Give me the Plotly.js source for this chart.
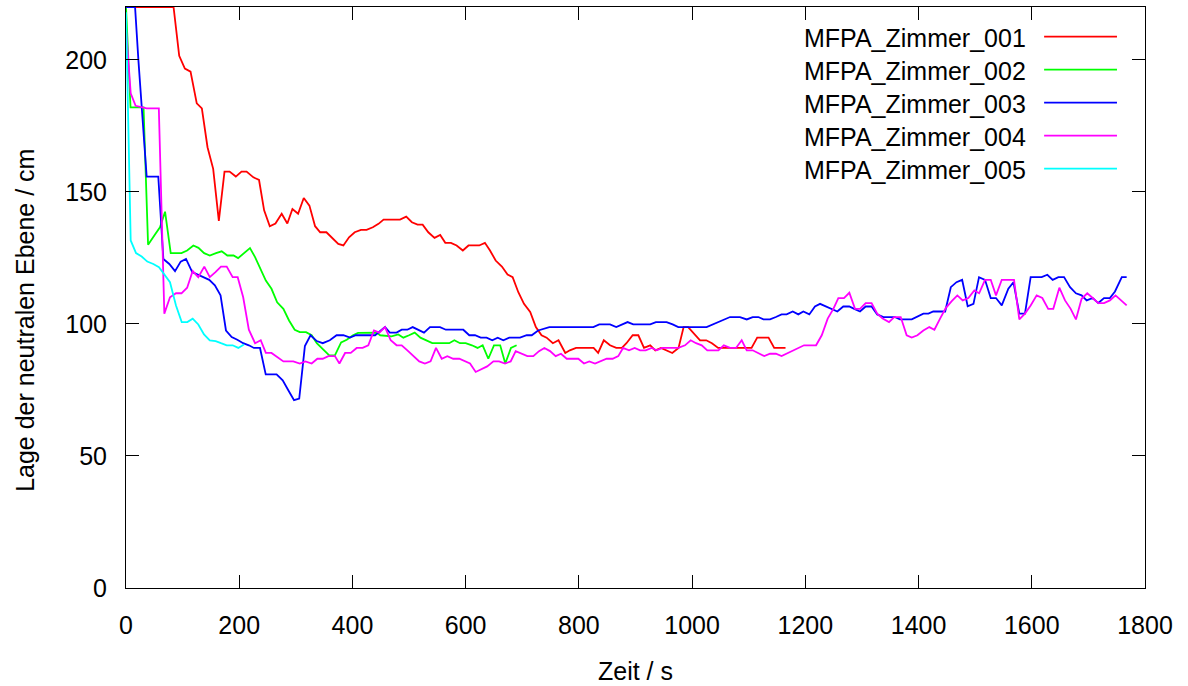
<!DOCTYPE html>
<html><head><meta charset="utf-8">
<script src="https://cdn.plot.ly/plotly-3.0.1.min.js"></script>
<style>html,body{margin:0;padding:0;background:#fff}#chart{width:1188px;height:686px}</style>
</head><body><div id="chart"></div>
<script>
const seriesNames = ['MFPA_Zimmer_001','MFPA_Zimmer_002','MFPA_Zimmer_003','MFPA_Zimmer_004','MFPA_Zimmer_005'];
const seriesColors = ['#ff0000','#00ff00','#0000ff','#ff00ff','#00ffff'];
const xTickVals = [0,200,400,600,800,1000,1200,1400,1600,1800];
const yTickVals = [0,50,100,150,200];

const z001_t = [0,16,84,94,104,114,125,134,144,154,164,174,183,194,204,213,225,235,244,254,264,275,285,294,304,314,324,334,343,354,366,375,384,394,404,415,425,436,446,455,466,484,495,505,515,524,534,545,555,564,574,584,595,605,624,634,643,653,664,674,683,693,703,714,724,734,743,754,764,776,784,795,826,834,844,855,866,876,884,895,905,915,926,935,945,955,965,976,985,993,1005,1014,1025,1035,1046,1105,1115,1135,1145,1165];
const z001_h = [220,220,220,201.5,196.7,195.5,183.5,181.6,166.9,158.7,139,157.7,157.7,155.8,157.7,157.7,155.5,154.5,143,137,138,141.7,138,143.5,141.7,147.7,144.8,137,134.7,134.7,132.2,130.3,129.7,132.8,134.7,135.6,135.6,136.6,137.9,139.5,139.5,139.5,140.6,138.5,137.6,137.6,134.7,132.6,133.7,130.7,130.7,129.7,127.8,129.7,129.7,130.7,127.8,124,121.7,118.7,117.7,112,107.6,104.5,98.8,95.7,94.8,92.7,93.8,89,90,90.9,90.9,89,93.8,91.9,90.9,90.9,92.7,95.7,95.7,90.9,91.9,90,90.9,90,89,90.9,98.8,98.8,95.7,93.8,93.8,92.7,90.9,90.9,94.8,94.8,90.9,90.9];

const z002_t = [0,8,31,39,50,60,69,79,98,108,119,128,138,148,159,169,179,190,198,208,219,228,237,247,257,267,278,288,298,307,318,328,337,347,359,369,380,390,401,410,443,449,469,481,490,500,510,520,531,541,571,580,590,600,611,621,630,640,650,661,670,680,690];
const z002_h = [220,182,182,130,133.5,136.6,142.5,126.8,126.8,127.8,129.7,128.8,126.8,125.9,126.8,127.5,125.9,125.9,124.9,126.8,128.7,125.3,120.9,116.4,113.3,108.2,105.7,101.3,97.8,96.9,96.9,95.7,92.7,90.6,88.1,88.1,93,94,95.7,96.6,96.7,95.7,95.3,96,94.8,95.7,96.7,94.8,93.8,92.7,92.7,93.8,92.7,92.7,91.9,90.9,91.9,86.8,91.9,91.9,85,90.9,91.9];

const z003_t = [0,16,22,36.5,57,66,76.5,86.6,96.6,106,117,127.7,137.8,147,157,167,176.6,186.7,196.6,207,217,226,236.7,246.8,266,276.8,286.7,296.8,306,316,326,337,347.5,360,372,384,395.7,406,440,457.5,466,478,487,497,506.4,516.5,526.4,537,554.7,565,595.8,606.4,616.5,626.6,637,647,656.6,666.5,677,696,707.8,716.7,728,747.8,825.5,836,855,866,876,886,896,926,936,955,965.6,975.6,1025.6,1036,1046,1056,1067,1084.6,1096.5,1107,1117,1126,1137.6,1148,1158,1167,1177.7,1187.6,1196.5,1207,1217,1226,1236.6,1246.6,1256.5,1267,1277.6,1286.5,1296.6,1306.6,1317,1327,1337.8,1358,1367,1388,1408.5,1417.4,1426,1447,1457,1467,1477,1486.8,1497,1506.8,1517.4,1527.5,1536.8,1547,1558.6,1567.6,1578,1588,1598,1617.5,1627.5,1636.9,1647,1657,1667.6,1678,1688,1697,1707.6,1717.5,1727.6,1738,1747,1759,1767.6];
const z003_h = [220,220,199.6,155.8,155.8,124.6,122.7,120,123.6,124.6,119.6,118.6,117.7,116.7,114.6,110.8,97.5,95,94,92.7,91.9,90.9,90.9,80.9,80.9,78.6,74.9,71.1,71.7,91.6,95.7,93.5,92.7,93.8,95.7,95.7,94.8,95.7,95.7,98.8,96.7,96.7,97.8,97.8,98.8,97.8,96.7,98.8,98.8,97.8,97.8,95.7,95.7,94.8,94.8,93.8,94.8,93.8,94.8,94.8,95.7,95.7,97.5,98.8,98.8,99.8,99.8,98.8,99.8,100.7,99.8,99.8,100.7,100.7,99.8,98.8,98.8,99.8,100.7,101.7,102.6,102.6,101.7,102.6,102.6,101.7,101.7,102.6,103.6,103.6,104.7,103.6,104.7,103.6,106.6,107.6,106.6,105.7,104.7,106.6,106.6,105.7,104.7,106.6,106.6,103.6,102.6,102.6,101.7,101.7,103.9,103.9,104.7,104.7,113.9,115.8,116.7,106.7,107.6,117.7,116.7,109.8,109.8,107,113.3,115.8,103.9,103.9,117.7,117.7,118.6,116.7,117.7,117.7,113.9,111.6,110.8,108.9,109.8,107.9,109.8,109.8,112.3,117.7,117.7];

const z004_t = [0,8.3,17,27.7,36.5,58,67.7,77.7,88.3,98,108,117.8,127.7,138.3,148,158,167.8,177.9,188.4,197.3,207,217,228,238,247,257,267,278,295.5,307,317,328,338,347.5,357.4,369,377,387,397,407.5,418,428,438,447.5,457.5,467.6,478,487,497,507.5,518,528,538,547.6,557.7,567.6,578,588.7,598.8,607.7,617.7,628,638,649,659,669.5,679.5,688.4,699,709,719.5,729.6,739,749,759,768.4,778.5,799,809,818.4,828.5,838.5,849,859.6,869.6,878,888.5,898.6,908,918,928.6,937.5,947.4,975.6,987.5,997.5,1007,1017,1026.8,1046.4,1056,1067,1077.6,1087.6,1096.5,1107,1117,1127.5,1137.6,1148,1158,1197.7,1219,1229,1239.5,1249.5,1258.3,1268.3,1277.7,1287.8,1296.6,1306.6,1317,1327,1336.6,1347.8,1357,1368.5,1379,1388,1398,1408.5,1419,1428,1438,1448,1458.6,1468.5,1478,1488,1498.5,1507,1517.4,1527.5,1536.8,1547,1568.6,1578,1588,1598,1608.6,1618.6,1629,1638,1648.7,1658.7,1668.7,1678,1688,1698,1707.6,1717.5,1727.6,1738,1748,1757,1767.6];
const z004_h = [212,187.3,182.6,182.2,181.6,181.6,103.9,110.1,111.6,111.6,113.7,120,117.7,121.7,117.7,119.6,121.7,121.7,117.7,117.7,110.1,97.8,92.7,93.8,89,89,87.6,85.8,85.8,85,85.8,85,86.8,86.8,87.8,87.8,85,89,89,90.9,90.9,91.9,97.5,96.7,98.8,93.8,91.9,91.9,90,87.8,85.8,85,85.8,90.9,86.8,87.8,86.8,86.8,85.8,85,81.8,82.8,83.9,85.8,85.8,85,85.8,89.7,88.7,87.8,87.8,89.7,90.9,89.7,87.8,88.7,86.8,86.8,85,85.8,85,85.8,86.8,86.8,87.8,90.9,90,90.9,90,90,90.9,90,90.9,90.9,91.9,93.8,92.7,91.9,90,90,91.9,90.9,90.9,93.8,90,90,89,87.8,88.7,88.7,87.8,91.9,91.9,95.7,102,105.7,109.8,109.8,111.8,105.7,105.7,107.9,107.9,103.9,102,100.7,102.6,102.6,95.7,94.8,95.7,97.5,98.8,97.8,102,106,108.6,110.8,108.9,109.8,112.7,111.6,116.7,116.7,110.8,116.7,116.7,101.7,103.9,107,110.8,109.8,105.7,105.7,113.7,108.9,105.7,101.7,109.5,111.6,109.8,107.9,107.9,108.9,110.8,108.9,107];

const z005_t = [0,5.8,8.3,17.7,27.7,37.6,48.2,58.3,67.7,77.7,88.3,98.4,108.3,117.8,127.7,137.8,148,158.4,167.8,177.9,188.4,198.4,208.4];
const z005_h = [218,146.7,131.6,126.8,125.5,123.6,122.7,121.5,118.6,115.8,107,100.7,100.7,102,99.8,96,93.8,93.5,92.7,91.9,91.9,90.9,92.2];

const seriesT = [z001_t, z002_t, z003_t, z004_t, z005_t];
const seriesH = [z001_h, z002_h, z003_h, z004_h, z005_h];

const FONT = 'Liberation Sans, Arial, sans-serif';
const FS = 25;

const traces = seriesNames.map((n, i) => ({
  type: 'scatter', mode: 'lines', name: n,
  x: seriesT[i], y: seriesH[i],
  line: {color: seriesColors[i], width: 1.8},
  showlegend: false
}));

// gnuplot-style key: text then sample line
const keyTextX = 0.885, keyLineX0 = 0.901, keyLineX1 = 0.9725, keyTopY = 0.946, keyStep = 0.0568;
const annotations = seriesNames.map((n, i) => ({
  xref: 'paper', yref: 'paper', x: keyTextX, y: keyTopY - i * keyStep,
  xanchor: 'right', yanchor: 'middle', text: n, showarrow: false,
  font: {family: FONT, size: FS, color: '#000'}
}));
annotations.push({
  xref: 'paper', yref: 'paper', x: -0.099, y: 0.46, xanchor: 'center', yanchor: 'middle',
  text: 'Lage der neutralen Ebene / cm', textangle: -90, showarrow: false,
  font: {family: FONT, size: FS, color: '#000'}
});
const shapes = seriesNames.map((n, i) => ({
  type: 'line', xref: 'paper', yref: 'paper',
  x0: keyLineX0, x1: keyLineX1, y0: keyTopY - i * keyStep + 0.003, y1: keyTopY - i * keyStep + 0.003,
  line: {color: seriesColors[i], width: 1.8}
}));

const axisCommon = {
  showgrid: false, zeroline: false, showline: true, linecolor: '#000', linewidth: 1,
  mirror: 'ticks', ticks: 'inside', ticklen: 13, tickwidth: 1, tickcolor: '#000',
  tickfont: {family: FONT, size: FS, color: '#000'}
};

const layout = {
  width: 1188, height: 686,
  margin: {l: 126, r: 43, t: 7, b: 98},
  paper_bgcolor: '#fff', plot_bgcolor: '#fff',
  xaxis: Object.assign({}, axisCommon, {
    range: [0, 1800], tickvals: xTickVals, ticklabelstandoff: 15,
    title: {text: 'Zeit / s', font: {family: FONT, size: FS, color: '#000'}, standoff: 24}
  }),
  yaxis: Object.assign({}, axisCommon, {
    range: [0, 220], tickvals: yTickVals, ticklabelstandoff: 13
  }),
  annotations: annotations,
  shapes: shapes
};

Plotly.newPlot('chart', traces, layout, {displayModeBar: false, staticPlot: true});
</script>
</body></html>
